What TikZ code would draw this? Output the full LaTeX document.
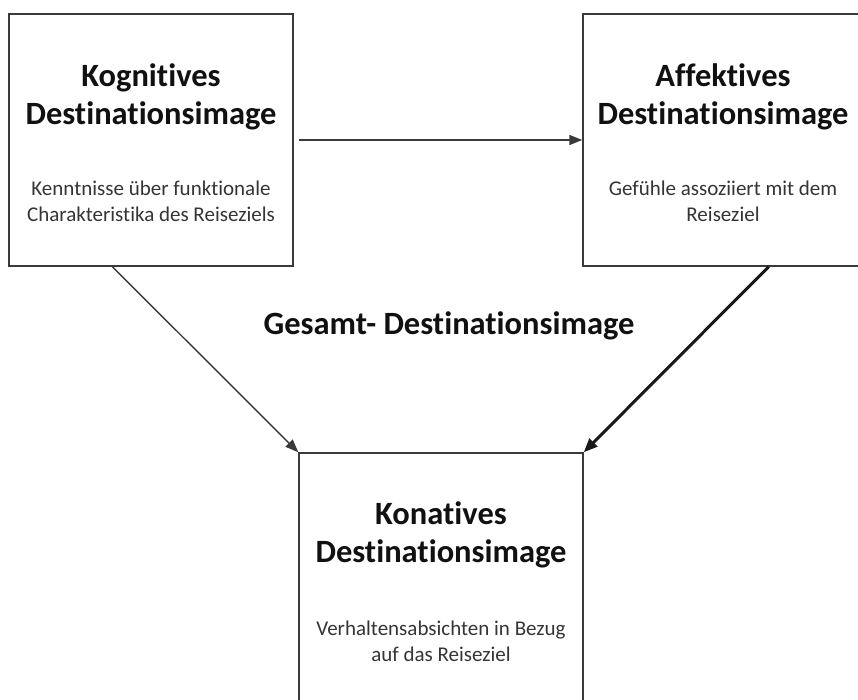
\documentclass[tikz,border=0pt]{standalone}
\usepackage{fontspec}
\setmainfont{Carlito}[Ligatures=NoCommon, RawFeature={-liga;-dlig}]
\usetikzlibrary{arrows.meta,calc}
\definecolor{linegray}{HTML}{3A3A3A}
\definecolor{txt}{HTML}{111111}
\tikzset{
  box/.style={draw=linegray, line width=1.4pt, rectangle, inner sep=0pt},
  titletext/.style={align=center, text=txt, font=\fontsize{32.5}{38.5}\selectfont\bfseries, inner sep=0pt},
  subtext/.style={align=center, text=txt!85!white, font=\fontsize{21}{26}\selectfont, inner sep=0pt},
  conn/.style={draw=linegray, line width=1.4pt, -{Triangle[length=13pt,width=10pt]}},
  thickconn/.style={draw=black!90, line width=3pt, -{Triangle[length=14pt,width=11pt]}},
}
\begin{document}
\begin{tikzpicture}[x=1pt,y=-1pt]
\useasboundingbox[fill=white] (0,0) rectangle (858,700);
\begin{scope}
\clip (0,0) rectangle (858,700);
% boxes
\node[box, minimum width=284pt, minimum height=252pt] (kog) at (151,140) {};
\node[box, minimum width=280pt, minimum height=252pt] (aff) at (723,140) {};
\node[box, minimum width=284pt, minimum height=270pt] (kon) at (441,588) {};
% texts
\node[titletext] (kogT) at (151,97) {Kognitives\\Destinationsimage};
\node[subtext] (kogS) at (151,201) {Kenntnisse über funktionale\\Charakteristika des Reiseziels};
\node[titletext] (affT) at (723,97) {Affektives\\Destinationsimage};
\node[subtext] (affS) at (723,201) {Gefühle assoziiert mit dem\\Reiseziel};
\node[titletext] (konT) at (441,535) {Konatives\\Destinationsimage};
\node[subtext] (konS) at (441,641) {Verhaltensabsichten in Bezug\\auf das Reiseziel};
\node[titletext] (ges) at (449,326) {Gesamt- Destinationsimage};
% connectors
\coordinate (kogout) at ([xshift=5pt]kog.east);
\draw[conn] (kogout) -- (aff.west);
\coordinate (kogdown) at ([xshift=104pt]kog.south west);
\draw[conn] (kogdown) -- (kon.north west);
\coordinate (affdown) at ([xshift=-95pt]aff.south east);
\draw[thickconn] (affdown) -- (kon.north east);
\end{scope}
\end{tikzpicture}
\end{document}
